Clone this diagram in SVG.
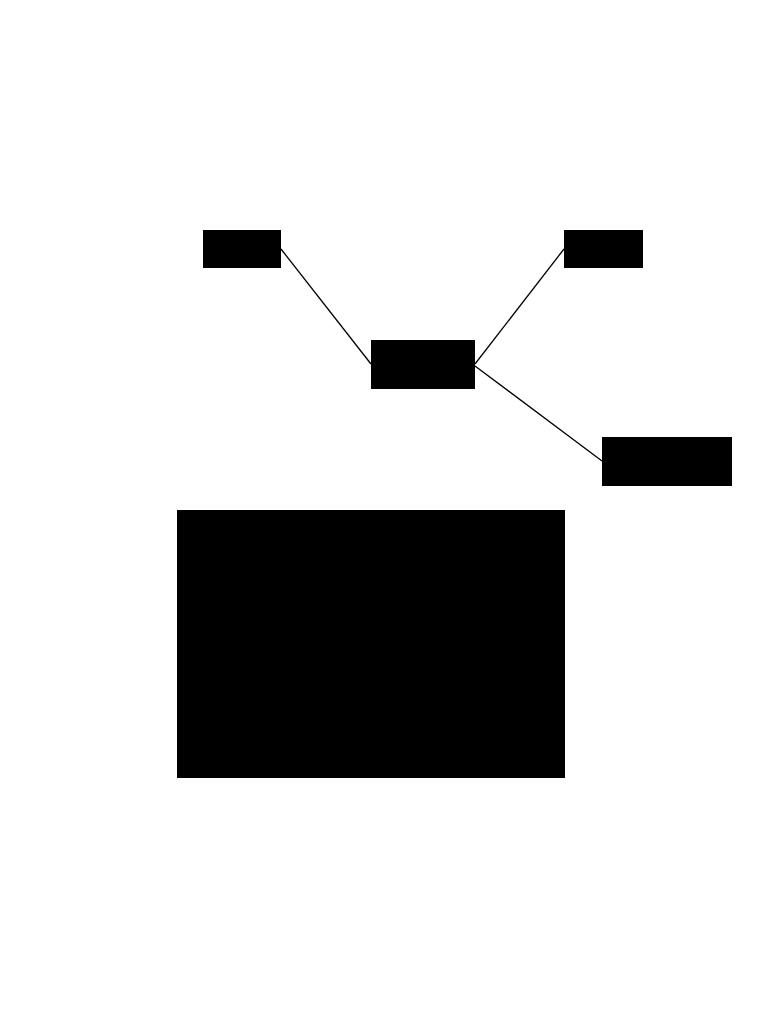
<svg xmlns="http://www.w3.org/2000/svg" width="768" height="1024" viewBox="0 0 768 1024">
<style>
.node{fill:#000;stroke:none}
.edge{stroke:#000;stroke-width:1.3;fill:none}
</style>
<rect width="768" height="1024" fill="#fff"/>
<g id="connectors">
<line class="edge" x1="281" y1="249" x2="371" y2="364"/>
<line class="edge" x1="564" y1="249" x2="475" y2="364"/>
<line class="edge" x1="475" y1="366" x2="602" y2="461"/>
</g>
<g id="node-topleft"><rect class="node" x="203" y="230" width="78" height="38"/></g>
<g id="node-topright"><rect class="node" x="564" y="230" width="79" height="38"/></g>
<g id="node-center"><rect class="node" x="371" y="340" width="104" height="49"/></g>
<g id="node-right"><rect class="node" x="602" y="437" width="130" height="49"/></g>
<g id="node-big"><rect class="node" x="177" y="510" width="388" height="268"/></g>
</svg>
